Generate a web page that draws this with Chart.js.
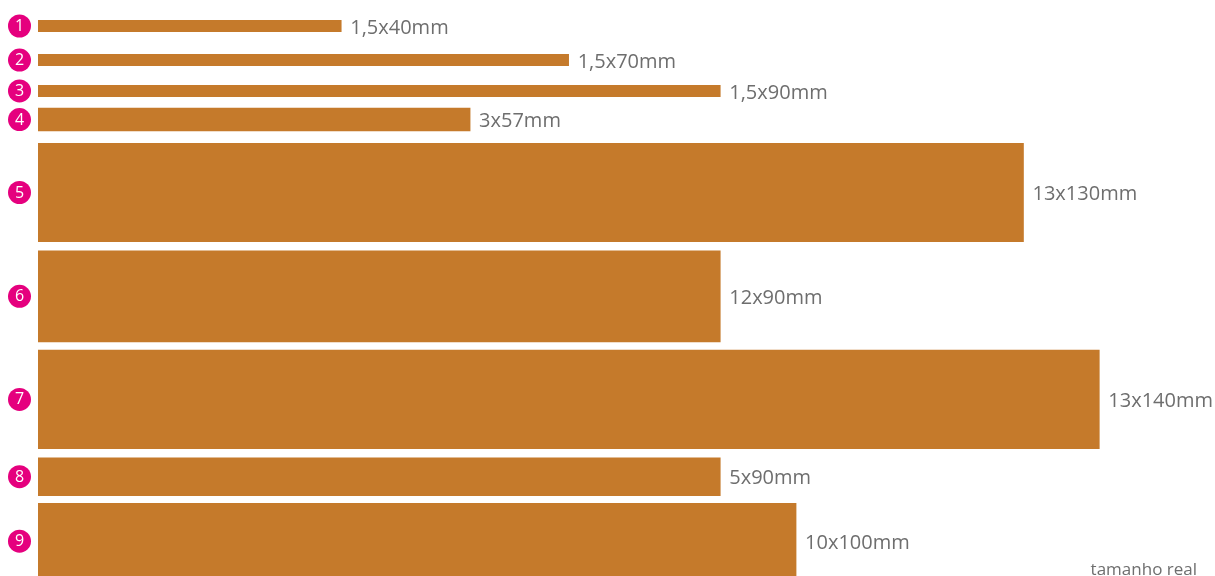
<!DOCTYPE html>
<html>
<head>
<meta charset="utf-8">
<script src="https://cdn.jsdelivr.net/npm/chart.js@4.4.1/dist/chart.umd.min.js"></script>
<style>
html,body{margin:0;padding:0;background:#ffffff;}
#wrap{width:1215px;height:576px;position:relative;}
</style>
</head>
<body>
<div id="wrap"><canvas id="c"></canvas></div>
<script>
// ---- data (millimetres) ----
const items = ['1', '2', '3', '4', '5', '6', '7', '8', '9'];
const thicknessMm = [1.5, 1.5, 1.5, 3, 13, 12, 13, 5, 10];
const lengthMm = [40, 70, 90, 57, 130, 90, 140, 90, 100];
const sizeLabels = ['1,5x40mm', '1,5x70mm', '1,5x90mm', '3x57mm', '13x130mm', '12x90mm', '13x140mm', '5x90mm', '10x100mm'];
const rowCenterMm = [3.43, 7.92, 12.0, 15.77, 25.4, 39.1, 52.7, 62.9, 71.4];
const footnote = 'tamanho real';

const BAR_COLOR = '#c57a2b';
const BADGE_COLOR = '#e5007e';
const TEXT_COLOR = '#6e6e6e';

function mmToPx(chart, mm) {
  const x = chart.scales.x;
  if (!x) return 1;
  return Math.abs(x.getPixelForValue(mm) - x.getPixelForValue(0));
}

const datasets = items.map((id, i) => ({
  label: id,
  data: [{ x: lengthMm[i], y: rowCenterMm[i] }],
  backgroundColor: BAR_COLOR,
  borderWidth: 0,
  stack: 'rows',
  barThickness: (ctx) => mmToPx(ctx.chart, thicknessMm[i])
}));

const annotatePlugin = {
  id: 'annotate',
  afterDatasetsDraw(chart) {
    const ctx = chart.ctx;
    ctx.save();
    chart.data.datasets.forEach((ds, i) => {
      const meta = chart.getDatasetMeta(i);
      const el = meta.data[0];
      if (!el) return;
      // size label to the right of the bar
      ctx.fillStyle = TEXT_COLOR;
      ctx.font = '20px "Open Sans"';
      ctx.textAlign = 'left';
      ctx.textBaseline = 'middle';
      ctx.fillText(sizeLabels[i], el.x + 9, el.y + 2);
      // numbered badge on the left
      ctx.beginPath();
      ctx.fillStyle = BADGE_COLOR;
      ctx.arc(19.5, el.y, 11.5, 0, Math.PI * 2);
      ctx.fill();
      ctx.fillStyle = '#ffffff';
      ctx.font = '16px "Open Sans"';
      ctx.textAlign = 'center';
      ctx.fillText(items[i], 19.5, el.y + 0.5);
    });
    ctx.fillStyle = TEXT_COLOR;
    ctx.font = '17px "Open Sans"';
    ctx.textAlign = 'right';
    ctx.textBaseline = 'alphabetic';
    ctx.fillText(footnote, chart.width - 18, chart.height - 1);
    ctx.restore();
  }
};

new Chart(document.getElementById('c'), {
  type: 'bar',
  data: { datasets },
  options: {
    indexAxis: 'y',
    responsive: true,
    maintainAspectRatio: false,
    animation: false,
    events: [],
    layout: { padding: { left: 38, right: 2, top: 0, bottom: 0 } },
    plugins: { legend: { display: false }, tooltip: { enabled: false }, title: { display: false } },
    scales: {
      x: { type: 'linear', min: 0, max: 155, display: false, offset: false },
      y: { type: 'linear', min: 0, max: 76, reverse: true, display: false, offset: false }
    }
  },
  plugins: [annotatePlugin]
});
</script>
</body>
</html>
